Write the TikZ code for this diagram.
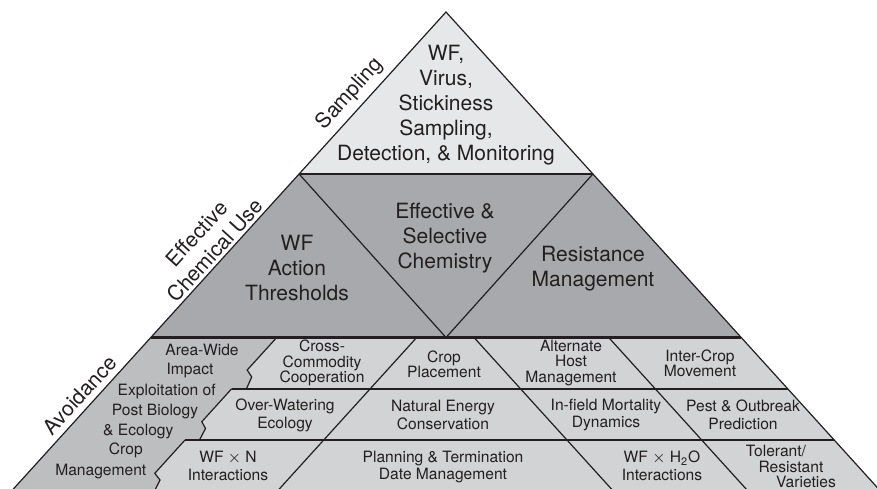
\documentclass[tikz,border=0pt]{standalone}
\usepackage{fontspec}
\setmainfont{TeX Gyre Heros}
\usepackage{tikz}
\usetikzlibrary{calc}

\definecolor{topgray}{HTML}{E6E7E8}
\definecolor{midgray}{HTML}{A7A9AC}
\definecolor{cellgray}{HTML}{D1D3D4}
\definecolor{avoidgray}{HTML}{BCBEC0}
\definecolor{inkgray}{HTML}{231F20}

\tikzset{
  bigtext/.style={font=\fontsize{10.5}{12.5}\selectfont, align=center, text=inkgray, inner sep=0pt},
  sidetext/.style={bigtext, rotate=47.8},
  celltext/.style={font=\fontsize{7.8}{8.8}\selectfont, align=center, text=inkgray, inner sep=0pt},
  celltight/.style={celltext, font=\fontsize{7.8}{7.6}\selectfont},
  edge/.style={draw=inkgray, line width=0.6pt},
  bandline/.style={draw=inkgray, line width=1.1pt},
  rowline/.style={draw=inkgray, line width=0.85pt},
}

\begin{document}
\begin{tikzpicture}[x=0.5pt,y=-0.5pt]
\useasboundingbox (0,0) rectangle (877,488);
\clip (0,0) rectangle (877,488);

\coordinate (apex) at (446,12);
\coordinate (midL) at (299.1,174);
\coordinate (midR) at (592.9,174);
\coordinate (vee) at (446,337.5);
\coordinate (baseL) at (150.8,337.5);
\coordinate (baseR) at (741.2,337.5);
\coordinate (footL) at (3.4,500);
\coordinate (footR) at (888.6,500);

% bands
\fill[topgray] (apex) -- (midL) -- (midR) -- cycle;
\fill[midgray] (midL) -- (midR) -- (baseR) -- (baseL) -- cycle;
\fill[cellgray] (baseL) -- (baseR) -- (footR) -- (footL) -- cycle;
\fill[avoidgray] (baseL) -- (276.7,337.5) -- (247.2,370) -- (251.7,377) -- (246.5,388.7)
   -- (231.7,388.7) -- (201.8,421.7) -- (205.5,428.5) -- (199.5,440)
   -- (185,440) -- (154.8,473.3) -- (160,480) -- (155,490) -- (151,500) -- (footL) -- cycle;

% lines
\draw[bandline] (midL) -- (midR);
\draw[bandline] (baseL) -- (baseR);
\draw[rowline] (231.7,388.7) -- (787.7,388.7);
\draw[rowline] (185,440) -- (834.2,440);
\draw[edge] (midL) -- (vee) -- (midR);
\draw[edge] (276.7,337.5) -- (247.2,370) -- (251.7,377) -- (246.5,388.7);
\draw[edge] (231.7,388.7) -- (201.8,421.7) -- (205.5,428.5) -- (199.5,440);
\draw[edge] (185,440) -- (154.8,473.3) -- (160,480) -- (155,490) -- (151,500);
\draw[edge] (416.7,337.5) -- (269.3,500);
\draw[edge] (474,337.5) -- (621.4,500);
\draw[edge] (608.7,337.5) -- (756.1,500);
\draw[edge] (footL) -- (apex) -- (footR);

% side labels
\node[sidetext] (sampling) at (350,94) {Sampling};
\node[sidetext] (chemuse) at (206,242) {Effective\\Chemical Use};
\node[sidetext] (avoidance) at (80,395) {Avoidance};

% top and middle
\node[bigtext] (monitor) at (446,105) {WF,\\Virus,\\Stickiness\\Sampling,\\Detection, \& Monitoring};
\node[bigtext] (thresholds) at (297,268) {WF\\Action\\Thresholds};
\node[bigtext] (chemistry) at (445,238) {Effective \&\\Selective\\Chemistry};
\node[bigtext] (resistance) at (593,269) {Resistance\\Management};

% bottom cells
\node[celltight] (commodity) at (322,363) {Cross-\\Commodity\\Cooperation};
\node[celltight] (placement) at (444,364) {Crop\\Placement};
\node[celltight] (althost) at (571,363) {Alternate\\Host\\Management};
\node[celltight] (intercrop) at (700,363) {Inter-Crop\\Movement};
\node[celltext] (overwater) at (285,415.5) {Over-Watering\\Ecology};
\node[celltext] (energy) at (443,415) {Natural Energy\\Conservation};
\node[celltext] (mortality) at (606,415) {In-field Mortality\\Dynamics};
\node[celltext] (outbreak) at (743,415) {Pest \& Outbreak\\Prediction};
\node[celltext] (wfn) at (228,466) {WF $\times$ N\\Interactions};
\node[celltext] (planning) at (443,467) {Planning \& Termination\\Date Management};
\node[celltext] (wfwater) at (662,466) {WF $\times$ H\textsubscript{2}O\\Interactions};

\foreach \txt/\x/\y [count=\i] in {Area-Wide/202/355.7, Impact/190/374.3,
    Exploitation of/166.7/395, Post Biology/155/415, \& Ecology/138.3/435.7,
    Crop/125.8/454.5, Management/100.8/475}
  \node[celltext, anchor=base] (area\i) at (\x,\y) {\txt};
\foreach \txt/\x/\y [count=\i] in {Tolerant\slash/776/456.7, Resistant/791/472.3, Varieties/806/487.7}
  \node[celltext, anchor=base] (tolerant\i) at (\x,\y) {\txt};
\end{tikzpicture}
\end{document}
